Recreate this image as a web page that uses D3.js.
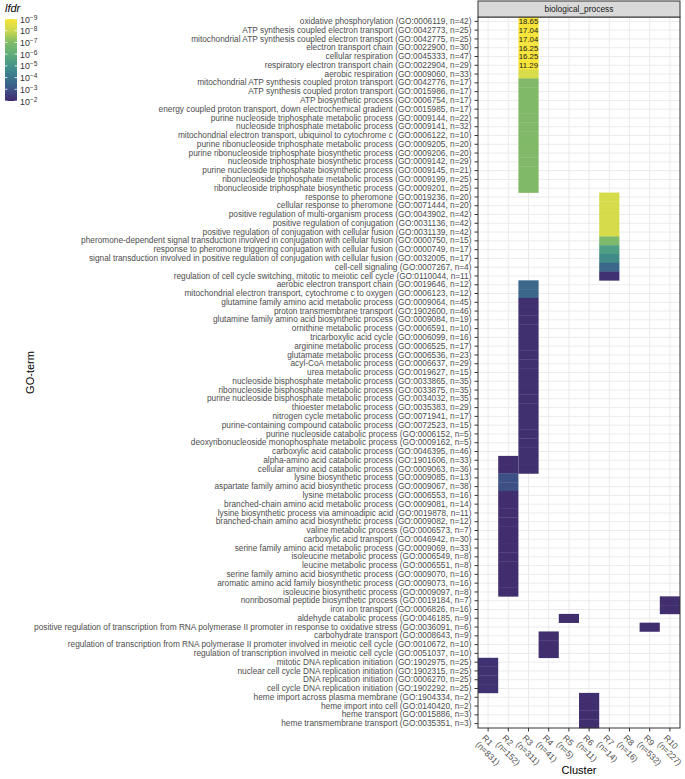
<!DOCTYPE html>
<html><head><meta charset="utf-8">
<script src="https://cdn.jsdelivr.net/npm/d3@7"></script>
<style>body{margin:0;background:#fff}svg{display:block}</style>
</head><body><svg id="c" width="685" height="779"></svg>
<script>
const terms = [
"oxidative phosphorylation (GO:0006119, n=42)",
"ATP synthesis coupled electron transport (GO:0042773, n=25)",
"mitochondrial ATP synthesis coupled electron transport (GO:0042775, n=25)",
"electron transport chain (GO:0022900, n=30)",
"cellular respiration (GO:0045333, n=47)",
"respiratory electron transport chain (GO:0022904, n=29)",
"aerobic respiration (GO:0009060, n=33)",
"mitochondrial ATP synthesis coupled proton transport (GO:0042776, n=17)",
"ATP synthesis coupled proton transport (GO:0015986, n=17)",
"ATP biosynthetic process (GO:0006754, n=17)",
"energy coupled proton transport, down electrochemical gradient (GO:0015985, n=17)",
"purine nucleoside triphosphate metabolic process (GO:0009144, n=22)",
"nucleoside triphosphate metabolic process (GO:0009141, n=32)",
"mitochondrial electron transport, ubiquinol to cytochrome c (GO:0006122, n=10)",
"purine ribonucleoside triphosphate metabolic process (GO:0009205, n=20)",
"purine ribonucleoside triphosphate biosynthetic process (GO:0009206, n=20)",
"nucleoside triphosphate biosynthetic process (GO:0009142, n=29)",
"purine nucleoside triphosphate biosynthetic process (GO:0009145, n=21)",
"ribonucleoside triphosphate metabolic process (GO:0009199, n=25)",
"ribonucleoside triphosphate biosynthetic process (GO:0009201, n=25)",
"response to pheromone (GO:0019236, n=20)",
"cellular response to pheromone (GO:0071444, n=20)",
"positive regulation of multi-organism process (GO:0043902, n=42)",
"positive regulation of conjugation (GO:0031136, n=42)",
"positive regulation of conjugation with cellular fusion (GO:0031139, n=42)",
"pheromone-dependent signal transduction involved in conjugation with cellular fusion (GO:0000750, n=15)",
"response to pheromone triggering conjugation with cellular fusion (GO:0000749, n=17)",
"signal transduction involved in positive regulation of conjugation with cellular fusion (GO:0032005, n=17)",
"cell-cell signaling (GO:0007267, n=4)",
"regulation of cell cycle switching, mitotic to meiotic cell cycle (GO:0110044, n=11)",
"aerobic electron transport chain (GO:0019646, n=12)",
"mitochondrial electron transport, cytochrome c to oxygen (GO:0006123, n=12)",
"glutamine family amino acid metabolic process (GO:0009064, n=45)",
"proton transmembrane transport (GO:1902600, n=46)",
"glutamine family amino acid biosynthetic process (GO:0009084, n=19)",
"ornithine metabolic process (GO:0006591, n=10)",
"tricarboxylic acid cycle (GO:0006099, n=16)",
"arginine metabolic process (GO:0006525, n=17)",
"glutamate metabolic process (GO:0006536, n=23)",
"acyl-CoA metabolic process (GO:0006637, n=29)",
"urea metabolic process (GO:0019627, n=15)",
"nucleoside bisphosphate metabolic process (GO:0033865, n=35)",
"ribonucleoside bisphosphate metabolic process (GO:0033875, n=35)",
"purine nucleoside bisphosphate metabolic process (GO:0034032, n=35)",
"thioester metabolic process (GO:0035383, n=29)",
"nitrogen cycle metabolic process (GO:0071941, n=17)",
"purine-containing compound catabolic process (GO:0072523, n=15)",
"purine nucleoside catabolic process (GO:0006152, n=5)",
"deoxyribonucleoside monophosphate metabolic process (GO:0009162, n=5)",
"carboxylic acid catabolic process (GO:0046395, n=46)",
"alpha-amino acid catabolic process (GO:1901606, n=33)",
"cellular amino acid catabolic process (GO:0009063, n=36)",
"lysine biosynthetic process (GO:0009085, n=13)",
"aspartate family amino acid biosynthetic process (GO:0009067, n=38)",
"lysine metabolic process (GO:0006553, n=16)",
"branched-chain amino acid metabolic process (GO:0009081, n=14)",
"lysine biosynthetic process via aminoadipic acid (GO:0019878, n=11)",
"branched-chain amino acid biosynthetic process (GO:0009082, n=12)",
"valine metabolic process (GO:0006573, n=7)",
"carboxylic acid transport (GO:0046942, n=30)",
"serine family amino acid metabolic process (GO:0009069, n=33)",
"isoleucine metabolic process (GO:0006549, n=8)",
"leucine metabolic process (GO:0006551, n=8)",
"serine family amino acid biosynthetic process (GO:0009070, n=16)",
"aromatic amino acid family biosynthetic process (GO:0009073, n=16)",
"isoleucine biosynthetic process (GO:0009097, n=8)",
"nonribosomal peptide biosynthetic process (GO:0019184, n=7)",
"iron ion transport (GO:0006826, n=16)",
"aldehyde catabolic process (GO:0046185, n=9)",
"positive regulation of transcription from RNA polymerase II promoter in response to oxidative stress (GO:0036091, n=6)",
"carbohydrate transport (GO:0008643, n=9)",
"regulation of transcription from RNA polymerase II promoter involved in meiotic cell cycle (GO:0010672, n=10)",
"regulation of transcription involved in meiotic cell cycle (GO:0051037, n=10)",
"mitotic DNA replication initiation (GO:1902975, n=25)",
"nuclear cell cycle DNA replication initiation (GO:1902315, n=25)",
"DNA replication initiation (GO:0006270, n=25)",
"cell cycle DNA replication initiation (GO:1902292, n=25)",
"heme import across plasma membrane (GO:1904334, n=2)",
"heme import into cell (GO:0140420, n=2)",
"heme transport (GO:0015886, n=3)",
"heme transmembrane transport (GO:0035351, n=3)"
];
const clusters = ["R1","R2","R3","R4","R5","R6","R7","R8","R9","R10"];
const clusterSizes = [831,152,311,41,5,11,14,16,532,227];
const panelTitle = "biological_process";

// cells: [row number (1-based), -log10(lfdr)]
const cellsR1 = [[74,2.2],[75,2.2],[76,2.2],[77,2.2]];
const cellsR2 = [[51,2.1],[52,2.1],[53,2.9],[54,2.9],[55,2.1],[56,2.1],[57,2.1],[58,2.1],[59,2.1],[60,2.1],[61,2.1],[62,2.1],[63,2.1],[64,2.1],[65,2.1],[66,2.1]];
const cellsR3 = [[1,18.65],[2,17.04],[3,17.04],[4,16.25],[5,16.25],[6,11.29],[7,8.25],
  [8,7.0],[9,7.0],[10,7.0],[11,7.0],[12,7.0],[13,7.0],[14,7.0],[15,7.0],[16,7.0],[17,7.0],[18,7.0],[19,7.0],[20,7.0],
  [31,3.6],[32,3.6],[33,2.15],[34,2.15],[35,2.15],[36,2.15],[37,2.15],[38,2.15],[39,2.15],[40,2.15],[41,2.15],[42,2.15],
  [43,2.15],[44,2.15],[45,2.15],[46,2.15],[47,2.15],[48,2.15],[49,2.15],[50,2.15],[51,2.15],[52,2.15]];
const cellsR4 = [[71,2.1],[72,2.1],[73,2.1]];
const cellsR5 = [[69,2.1]];
const cellsR6 = [[78,2.1],[79,2.1],[80,2.1],[81,2.1]];
const cellsR7 = [[21,8.2],[22,8.2],[23,8.2],[24,8.2],[25,8.2],[26,6.9],[27,5.4],[28,4.7],[29,3.6],[30,2.2]];
const cellsR8 = [];
const cellsR9 = [[70,2.1]];
const cellsR10 = [[67,2.1],[68,2.1]];

const legendBreaks = [-9,-8,-7,-6,-5,-4,-3,-2];
const legendColors = ["#f7e43a","#cdd94f","#80ba68","#5fae79","#42938a","#3a768b","#3d5488","#412a6c"];

const allCells = [cellsR1,cellsR2,cellsR3,cellsR4,cellsR5,cellsR6,cellsR7,cellsR8,cellsR9,cellsR10]
  .flatMap((arr,i)=>arr.map(([r,s])=>({term:terms[r-1],cluster:clusters[i],score:s})));

const FONT = "'Liberation Sans', Arial, Helvetica, sans-serif";
const svg = d3.select("#c").style("font-family", FONT);
const X0=478, X1=680, Y0=17, Y1=728;

const x = d3.scaleBand().domain(clusters).range([X0,X1]).padding(0);
const y = d3.scaleBand().domain(terms).range([Y0,Y1]).padding(0);
const color = d3.scaleLinear().domain(legendBreaks).range(legendColors).clamp(true);

svg.append("rect").attr("x",X0).attr("y",Y0).attr("width",X1-X0).attr("height",Y1-Y0).attr("fill","#fff");
const grid = svg.append("g").attr("stroke","#ebebeb").attr("stroke-width",1);
grid.selectAll("line.v").data(clusters).join("line")
  .attr("x1",d=>x(d)+x.bandwidth()/2).attr("x2",d=>x(d)+x.bandwidth()/2).attr("y1",Y0).attr("y2",Y1);
grid.selectAll("line.h").data(terms).join("line")
  .attr("y1",d=>y(d)+y.bandwidth()/2).attr("y2",d=>y(d)+y.bandwidth()/2).attr("x1",X0).attr("x2",X1);

svg.append("g").selectAll("rect").data(allCells).join("rect")
  .attr("x",d=>x(d.cluster)).attr("y",d=>y(d.term))
  .attr("width",x.bandwidth()).attr("height",y.bandwidth()+0.3)
  .attr("fill",d=>color(-d.score));

svg.append("g").selectAll("text").data(allCells.filter(d=>d.score>9)).join("text")
  .attr("x",d=>x(d.cluster)+x.bandwidth()/2).attr("y",d=>y(d.term)+y.bandwidth()/2)
  .attr("dy","0.36em").attr("text-anchor","middle").attr("font-size",7.8).attr("fill","#222")
  .text(d=>d.score.toFixed(2));

svg.append("rect").attr("x",X0).attr("y",Y0).attr("width",X1-X0).attr("height",Y1-Y0)
  .attr("fill","none").attr("stroke","#333").attr("stroke-width",1);

svg.append("rect").attr("x",X0).attr("y",1).attr("width",X1-X0).attr("height",Y0-1)
  .attr("fill","#d9d9d9").attr("stroke","#333").attr("stroke-width",1);
svg.append("text").attr("x",(X0+X1)/2).attr("y",(1+Y0)/2).attr("dy","0.35em")
  .attr("text-anchor","middle").attr("font-size",8.4).attr("fill","#1a1a1a").text(panelTitle);

const yAx = svg.append("g").attr("transform",`translate(${X0},0)`)
  .call(d3.axisLeft(y).tickSize(3.5).tickPadding(3));
yAx.select(".domain").remove();
yAx.selectAll(".tick line").attr("stroke","#333");
yAx.selectAll(".tick text").attr("font-size",8.3).attr("fill","#4d4d4d").attr("font-family",FONT);

const xAx = svg.append("g").attr("transform",`translate(0,${Y1})`)
  .call(d3.axisBottom(x).tickSize(3.5).tickFormat(""));
xAx.select(".domain").remove();
xAx.selectAll(".tick line").attr("stroke","#333");
const xl = svg.append("g").selectAll("text").data(clusters).join("text")
  .attr("transform",d=>`translate(${x(d)+x.bandwidth()/2-2},${Y1+6}) rotate(45)`)
  .attr("font-size",8.6).attr("fill","#4d4d4d");
xl.append("tspan").attr("x",0).attr("dy","0.75em").text(d=>d);
xl.append("tspan").attr("x",0).attr("dy","1.05em").text((d,i)=>`(n=${clusterSizes[i]})`);

svg.append("text").attr("x",(X0+X1)/2).attr("y",774).attr("text-anchor","middle")
  .attr("font-size",11).attr("fill","#000").text("Cluster");
svg.append("text").attr("transform",`translate(34,${(Y0+Y1)/2}) rotate(-90)`)
  .attr("text-anchor","middle").attr("font-size",11).attr("fill","#000").text("GO-term");

const LX=5, LY0=19, LY1=101, LW=12;
svg.append("text").attr("x",LX).attr("y",12).attr("font-size",11).attr("font-style","italic").text("lfdr");
const ly = d3.scaleLinear().domain([-9,-2]).range([LY0,LY1]);
const defs = svg.append("defs");
const grad = defs.append("linearGradient").attr("id","lg").attr("x1",0).attr("x2",0).attr("y1",0).attr("y2",1);
d3.range(0,1.0001,0.05).forEach(t=>{
  grad.append("stop").attr("offset",t).attr("stop-color",color(-9+7*t));
});
svg.append("rect").attr("x",LX).attr("y",LY0).attr("width",LW).attr("height",LY1-LY0).attr("fill","url(#lg)");
const lt = svg.append("g").attr("stroke","#fff").attr("stroke-width",0.8);
legendBreaks.forEach(b=>{
  lt.append("line").attr("x1",LX).attr("x2",LX+2.4).attr("y1",ly(b)).attr("y2",ly(b));
  lt.append("line").attr("x1",LX+LW-2.4).attr("x2",LX+LW).attr("y1",ly(b)).attr("y2",ly(b));
});
const ll = svg.append("g").selectAll("text").data(legendBreaks).join("text")
  .attr("x",LX+LW+3).attr("y",d=>ly(d)).attr("dy","0.4em").attr("font-size",8.8).attr("fill","#333");
ll.append("tspan").text("10");
ll.append("tspan").attr("dy","-0.45em").attr("font-size",6.6).text(d=>"\u2212"+(-d));
</script></body></html>
